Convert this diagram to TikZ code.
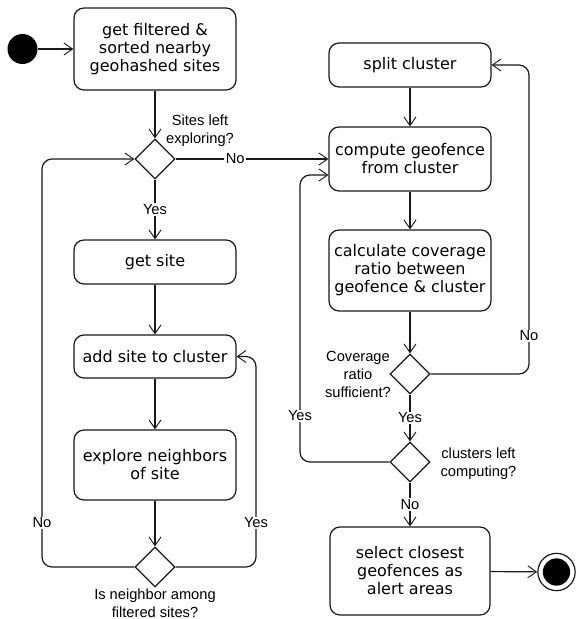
\documentclass[tikz,border=0pt]{standalone}
\usepackage{fontspec}
\setmainfont{Liberation Sans}
\newfontfamily\boxfont{DejaVu Sans}
\usetikzlibrary{arrows.meta,shapes.geometric,calc}
\tikzset{
  act/.style={draw=black!90, line width=0.9pt, rounded corners=7.5pt, align=center,
    font=\boxfont\fontsize{12}{13.5}\selectfont, inner sep=0pt, minimum width=121.5pt},
  dec/.style={draw=black!90, line width=0.9pt, diamond, aspect=1, inner sep=0pt,
    minimum width=30pt, minimum height=30pt},
  flow/.style={draw=black!90, line width=0.9pt, -{Straight Barb[length=6.5pt,width=9pt,line width'=0.7pt]}},
  lbl/.style={font=\fontsize{11}{13.5}\selectfont, align=center, inner sep=0pt},
  onl/.style={font=\fontsize{11}{13.5}\selectfont, fill=white, inner sep=1pt},
}
\begin{document}
\begin{tikzpicture}[x=0.75pt,y=-0.75pt]
\useasboundingbox (0,0) rectangle (576,619);
% start / end
\node[circle, fill=black, minimum size=22.5pt, inner sep=0pt] (start) at (22.5,49) {};
\node[circle, draw=black!90, line width=0.9pt, fill=white, minimum size=28pt, inner sep=0pt] (endo) at (556.5,572) {};
\node[circle, fill=black, minimum size=20.5pt, inner sep=0pt] (endi) at (556.5,572) {};
% left column
\node[act, minimum height=61.5pt] (fetch) at (155,49) {get filtered \&\\sorted nearby\\geohashed sites};
\node[dec] (d1) at (155,159) {};
\node[act, minimum height=33pt] (get) at (155,262) {get site};
\node[act, minimum height=32.25pt] (add) at (155,356.5) {add site to cluster};
\node[act, minimum height=52.5pt] (explore) at (155,465) {explore neighbors\\of site};
\node[dec] (d2) at (155,567) {};
% right column
\node[act, minimum height=33pt] (split) at (410,65) {split cluster};
\node[act, minimum height=48pt] (compute) at (410,159) {compute geofence\\from cluster};
\node[act, minimum height=60.75pt] (calc) at (410,270.5) {calculate coverage\\ratio between\\geofence \& cluster};
\node[dec] (d3) at (410,374) {};
\node[dec] (d4) at (410,462) {};
\node[act, minimum height=66pt, minimum width=120pt] (select) at (410,571) {select closest\\geofences as\\alert areas};
% labels near decisions
\node[lbl] (l1) at (200,131) {Sites left\\exploring?};
\node[lbl] (l2) at (155,603.5) {Is neighbor among\\filtered sites?};
\node[lbl] (l3) at (358,374) {Coverage\\ratio\\sufficient?};
\node[lbl] (l4) at (478.5,463.5) {clusters left\\computing?};
% helper coordinates
\coordinate (lx) at (42,0);
\coordinate (rx) at (256,0);
\coordinate (nx) at (529,0);
\coordinate (yx) at (300,0);
\coordinate (cin) at ($(compute.west)+(0,16)$);
% connectors
\draw[flow] (start) -- (fetch);
\draw[flow] (fetch) -- (d1);
\draw[flow] (d1.east) -- node[onl, pos=0.39] {No} (compute.west);
\draw[flow] (d1.south) -- node[onl] {Yes} (get.north);
\draw[flow] (get) -- (add);
\draw[flow] (add) -- (explore);
\draw[flow] (explore) -- (d2.north);
\draw[flow, rounded corners=7.5pt] (d2.west) -- (d2.west -| lx) -- (d1.west -| lx) -- (d1.west);
\node[onl] at (42,523) {No};
\draw[flow, rounded corners=7.5pt] (d2.east) -- (d2.east -| rx) -- (add.east -| rx) -- (add.east);
\node[onl] at (256,523) {Yes};
\draw[flow] (split) -- (compute);
\draw[flow] (compute) -- (calc);
\draw[flow] (calc) -- (d3.north);
\draw[flow, rounded corners=7.5pt] (d3.east) -- (d3.east -| nx) -- (split.east -| nx) -- (split.east);
\node[onl] at (529,336) {No};
\draw[flow] (d3.south) -- node[onl] {Yes} (d4.north);
\draw[flow, rounded corners=7.5pt] (d4.west) -- (d4.west -| yx) -- (cin -| yx) -- (cin);
\node[onl] at (300,416) {Yes};
\draw[flow] (d4.south) -- node[onl] {No} (select.north);
\draw[flow] (select) -- (endo);
\end{tikzpicture}
\end{document}
